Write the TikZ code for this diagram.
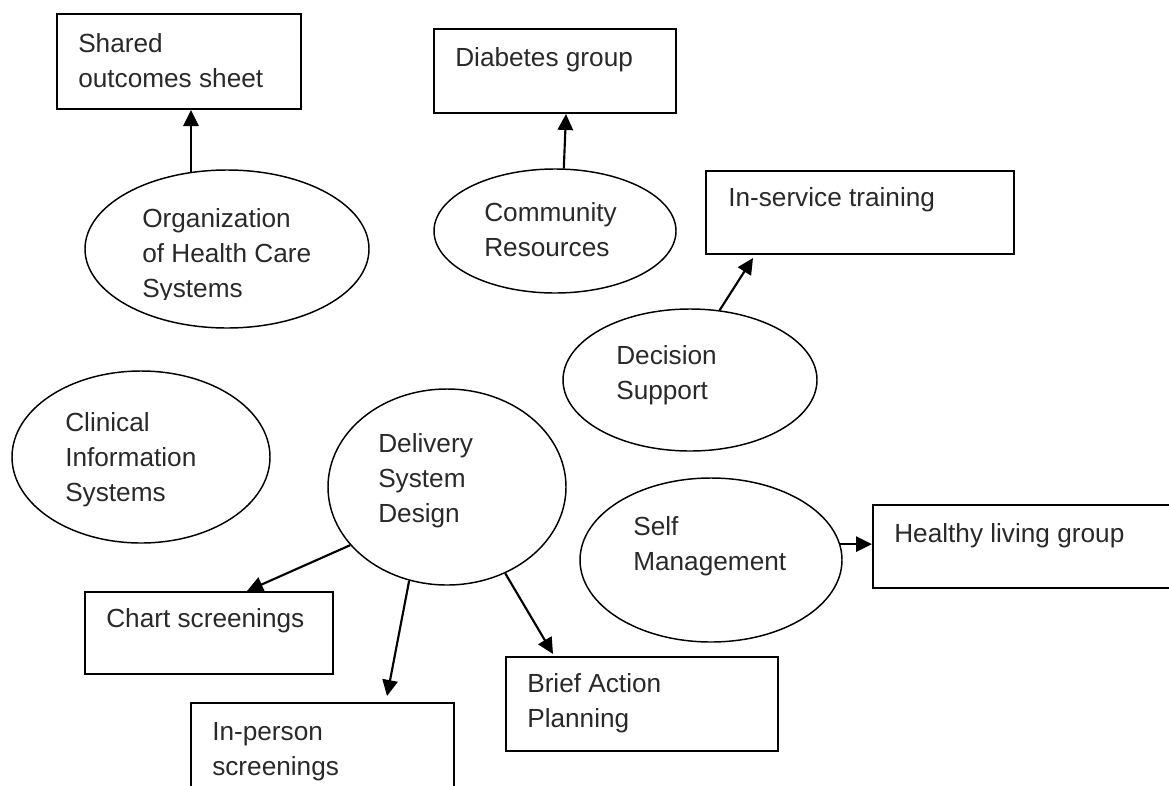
\documentclass[tikz,border=0pt]{standalone}
\usepackage{fontspec}
\setmainfont{Liberation Sans}
\usetikzlibrary{shapes.geometric,arrows.meta}
\definecolor{textgray}{rgb}{0.16,0.16,0.16}
\begin{document}
\begin{tikzpicture}[x=0.75pt, y=-0.75pt,
  sz/.style 2 args={minimum width=#1*0.75pt, minimum height=#2*0.75pt},
  boxn/.style={draw=black, line width=1.5pt, rectangle, inner sep=0pt},
  oval/.style={draw=black, line width=1.1pt, ellipse, inner sep=0pt},
  txt/.style={anchor=north west, inner sep=0pt, align=left, text=textgray,
    font=\fontsize{19.65pt}{26.25pt}\selectfont, execute at begin node=\strut},
  arr/.style={line width=1.6pt, -{Triangle[length=12pt,width=11.5pt]}}]
\useasboundingbox (0,0) rectangle (1169,785);
\clip (0,0) rectangle (1169,785);

% activity boxes
\node[boxn, sz={244}{95}] (shared) at (179,61.5) {};
\node[boxn, sz={242}{84}] (diab) at (555,71) {};
\node[boxn, sz={308}{83}] (insvc) at (860,212.5) {};
\node[boxn, sz={312}{83}] (healthy) at (1029,546.5) {};
\node[boxn, sz={248}{82}] (chart) at (209,633) {};
\node[boxn, sz={263}{97}] (inperson) at (322.5,751.5) {};
\node[boxn, sz={272}{94}] (brief) at (642,704) {};

% chronic care model elements
\node[oval, sz={284}{158}] (org) at (227,249) {};
\node[oval, sz={242}{124}] (comm) at (555,231) {};
\node[oval, sz={254}{142}] (dec) at (690,380) {};
\node[oval, sz={258}{172}] (clin) at (141,457) {};
\node[oval, sz={238}{196}] (deliv) at (447,487) {};
\node[oval, sz={262}{164}] (self) at (711,560) {};

% labels
\node[txt] (sharedtext) at (78,33) {Shared\\outcomes sheet};
\node[txt] (diabtext) at (455,41.5) {Diabetes group};
\node[txt] (insvctext) at (728,181.5) {In-service training};
\node[txt] (healthytext) at (894,517.5) {Healthy living group};
\node[txt] (charttext) at (106,602.5) {Chart screenings};
\begin{scope}
  \clip (190,700) rectangle (455,780);
  \node[txt] (inpersontext) at (212,722.5) {In-person\\screenings};
\end{scope}
\node[txt] (brieftext) at (527,673) {Brief Action\\Planning};
\begin{scope}
  \clip (85,170) rectangle (369,299.5);
  \node[txt] (orgtext) at (142,208) {Organization\\of Health Care\\Systems};
\end{scope}
\node[txt] (commtext) at (484,202) {Community\\Resources};
\node[txt] (dectext) at (616,345) {Decision\\Support};
\node[txt] (clintext) at (65,412) {Clinical\\Information\\Systems};
\node[txt] (delivtext) at (378,433) {Delivery\\System\\Design};
\node[txt] (selftext) at (633,516) {Self\\Management};

% connectors
\draw[arr] (org.115) -- (org.115 |- shared.south);
\draw[arr] (comm.82) -- ([xshift=8.25pt]diab.south);
\draw[arr] (dec.67) -- ([xshift=-80.25pt,yshift=-2.25pt]insvc.south);
\draw[arr] (deliv.211) -- ([xshift=28.5pt]chart.north);
\draw[arr] (deliv.248) -- ([xshift=48.4pt,yshift=4.5pt]inperson.north);
\draw[arr] (deliv.304) -- ([xshift=-66.75pt,yshift=1.5pt]brief.north);
\draw[arr] (self.7) -- (self.7 -| healthy.west);
\end{tikzpicture}
\end{document}
